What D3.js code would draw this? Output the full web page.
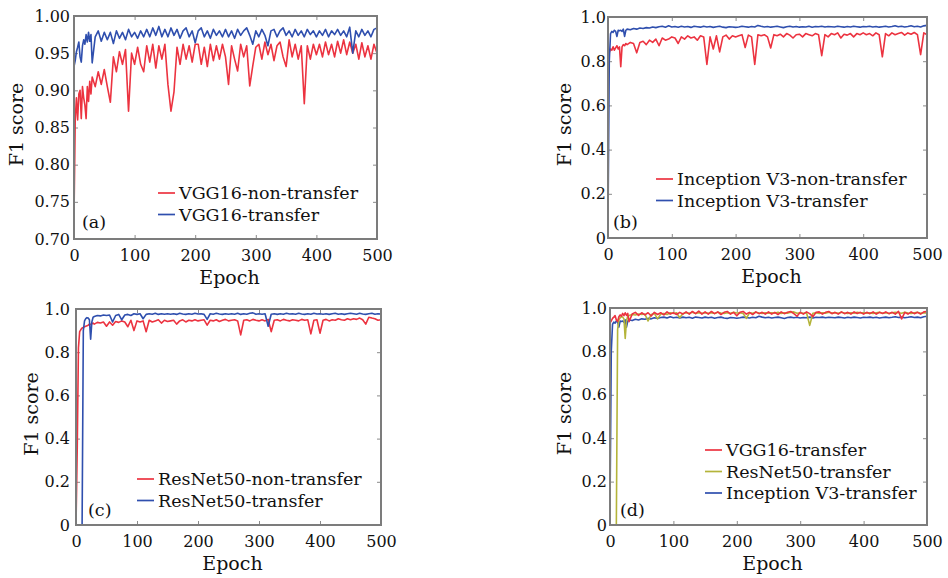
<!DOCTYPE html>
<html>
<head>
<meta charset="utf-8">
<script src="https://cdnjs.cloudflare.com/ajax/libs/d3/7.8.5/d3.min.js"></script>
<style>
    body { margin: 0; background: #fff; }
    svg { display: block; }
    text { font-family: "DejaVu Serif", serif; fill: #111; }
</style>
</head>
<body>
<div id="chart"></div>
<script>
// ----------------------- F1 score vs epoch, four panels

var epochs = [0, 2, 4, 6, 8, 10, 12, 14, 16, 18,
    20, 22, 24, 26, 28, 30, 35, 40, 45, 50,
    55, 60, 65, 70, 75, 80, 85, 90, 95, 100,
    105, 110, 115, 120, 125, 130, 135, 140, 145, 150,
    155, 160, 165, 170, 175, 180, 185, 190, 195, 200,
    205, 210, 215, 220, 225, 230, 235, 240, 245, 250,
    255, 260, 265, 270, 275, 280, 285, 290, 295, 300,
    305, 310, 315, 320, 325, 330, 335, 340, 345, 350,
    355, 360, 365, 370, 375, 380, 385, 390, 395, 400,
    405, 410, 415, 420, 425, 430, 435, 440, 445, 450,
    455, 460, 465, 470, 475, 480, 485, 490, 495, 500];

var vggNon = [0.73, 0.86, 0.89, 0.86, 0.895, 0.90, 0.862, 0.905, 0.89, 0.88,
    0.862, 0.905, 0.885, 0.912, 0.895, 0.918, 0.905, 0.925, 0.908, 0.928,
    0.905, 0.884, 0.945, 0.925, 0.952, 0.935, 0.955, 0.872, 0.95, 0.935,
    0.958, 0.935, 0.925, 0.96, 0.938, 0.962, 0.93, 0.96, 0.942, 0.962,
    0.908, 0.872, 0.898, 0.958, 0.935, 0.962, 0.942, 0.96, 0.938, 0.962,
    0.962, 0.935, 0.958, 0.932, 0.962, 0.94, 0.96, 0.942, 0.962, 0.945,
    0.908, 0.96, 0.942, 0.926, 0.962, 0.945, 0.96, 0.906, 0.933, 0.958,
    0.962, 0.942, 0.965, 0.948, 0.962, 0.94, 0.96, 0.965, 0.945, 0.932,
    0.968, 0.945, 0.962, 0.942, 0.96, 0.882, 0.96, 0.942, 0.962, 0.948,
    0.962, 0.945, 0.965, 0.948, 0.962, 0.945, 0.966, 0.95, 0.968, 0.948,
    0.965, 0.95, 0.962, 0.942, 0.964, 0.945, 0.96, 0.942, 0.962, 0.95];

var vggTr = [0.932, 0.94, 0.952, 0.958, 0.965, 0.945, 0.938, 0.96, 0.968, 0.962,
    0.975, 0.965, 0.978, 0.966, 0.975, 0.937, 0.972, 0.98, 0.966, 0.978,
    0.968, 0.978, 0.963, 0.98, 0.97, 0.978, 0.968, 0.982, 0.972, 0.978,
    0.97, 0.98, 0.972, 0.982, 0.972, 0.984, 0.974, 0.986, 0.972, 0.982,
    0.972, 0.984, 0.974, 0.982, 0.97, 0.98, 0.984, 0.972, 0.98, 0.964,
    0.98, 0.984, 0.972, 0.98, 0.97, 0.982, 0.974, 0.98, 0.972, 0.982,
    0.972, 0.98, 0.97, 0.982, 0.974, 0.98, 0.984, 0.974, 0.962, 0.98,
    0.972, 0.982, 0.974, 0.96, 0.98, 0.982, 0.972, 0.98, 0.984, 0.974,
    0.98, 0.972, 0.982, 0.974, 0.98, 0.972, 0.982, 0.975, 0.98, 0.972,
    0.98, 0.974, 0.982, 0.972, 0.98, 0.975, 0.982, 0.974, 0.98, 0.972,
    0.985, 0.95, 0.98, 0.972, 0.982, 0.974, 0.98, 0.972, 0.982, 0.984];

var incNon = [0.80, 0.84, 0.855, 0.85, 0.865, 0.85, 0.86, 0.87, 0.855, 0.865,
    0.775, 0.865, 0.875, 0.87, 0.88, 0.875, 0.885, 0.88, 0.838, 0.885,
    0.89, 0.875, 0.895, 0.885, 0.9, 0.87, 0.905, 0.895, 0.9, 0.91,
    0.905, 0.88, 0.91, 0.9, 0.915, 0.905, 0.91, 0.895, 0.915, 0.91,
    0.785, 0.91, 0.855, 0.915, 0.842, 0.91, 0.918, 0.9, 0.915, 0.91,
    0.915, 0.92, 0.862, 0.918, 0.91, 0.785, 0.92, 0.915, 0.92, 0.91,
    0.86, 0.92, 0.915, 0.922, 0.91, 0.925, 0.918, 0.905, 0.92, 0.922,
    0.91, 0.925, 0.92, 0.915, 0.925, 0.92, 0.825, 0.92, 0.91, 0.925,
    0.92, 0.928, 0.905, 0.922, 0.918, 0.925, 0.91, 0.925, 0.92, 0.928,
    0.92, 0.925, 0.915, 0.928, 0.92, 0.82, 0.925, 0.915, 0.928, 0.92,
    0.925, 0.93, 0.918, 0.928, 0.922, 0.93, 0.92, 0.83, 0.928, 0.92];

var incTr = [0.07, 0.80, 0.925, 0.935, 0.93, 0.94, 0.935, 0.912, 0.94, 0.938,
    0.94, 0.935, 0.945, 0.912, 0.94, 0.945, 0.942, 0.948, 0.945, 0.95,
    0.948, 0.952, 0.95, 0.955, 0.952, 0.956, 0.958, 0.954, 0.96, 0.955,
    0.957, 0.954, 0.958, 0.955, 0.957, 0.953, 0.958, 0.956, 0.954, 0.958,
    0.955, 0.957, 0.953, 0.956, 0.958, 0.954, 0.952, 0.956, 0.955, 0.953,
    0.955, 0.958, 0.956, 0.954, 0.957, 0.955, 0.962, 0.958, 0.955, 0.957,
    0.954, 0.956, 0.958, 0.955, 0.952, 0.956, 0.958, 0.955, 0.957, 0.954,
    0.956, 0.955, 0.958, 0.954, 0.957, 0.956, 0.958, 0.955, 0.957, 0.956,
    0.955, 0.958, 0.956, 0.954, 0.957, 0.955, 0.958, 0.956, 0.954, 0.957,
    0.956, 0.958, 0.955, 0.957, 0.954, 0.956, 0.958, 0.955, 0.957, 0.96,
    0.956, 0.958, 0.955, 0.957, 0.96, 0.956, 0.958, 0.955, 0.96, 0.962];

var resNon = [0.0, 0.35, 0.82, 0.895, 0.905, 0.912, 0.915, 0.918, 0.92, 0.922,
    0.925, 0.93, 0.928, 0.932, 0.935, 0.93, 0.938, 0.935, 0.94, 0.92,
    0.94, 0.925, 0.942, 0.938, 0.945, 0.94, 0.918, 0.948, 0.9, 0.945,
    0.94, 0.945, 0.895, 0.948, 0.94, 0.945, 0.95, 0.935, 0.948, 0.942,
    0.945, 0.948, 0.93, 0.945, 0.95, 0.94, 0.948, 0.945, 0.95, 0.945,
    0.948, 0.95, 0.925, 0.948, 0.945, 0.95, 0.942, 0.948, 0.952, 0.945,
    0.948, 0.95, 0.945, 0.88, 0.948, 0.95, 0.945, 0.952, 0.948, 0.945,
    0.95, 0.945, 0.952, 0.895, 0.948, 0.95, 0.945, 0.952, 0.948, 0.945,
    0.95, 0.948, 0.945, 0.952, 0.948, 0.95, 0.885, 0.948, 0.95, 0.888,
    0.948, 0.952, 0.945, 0.95, 0.948, 0.955, 0.95, 0.948, 0.955, 0.95,
    0.955, 0.952, 0.958, 0.95, 0.93, 0.962, 0.958, 0.955, 0.948, 0.95];

var resTr = [0, 0, 0, 0, 0, 0, 0.9, 0.945, 0.955, 0.96,
    0.958, 0.95, 0.86, 0.94, 0.962, 0.965, 0.97, 0.968, 0.972, 0.97,
    0.972, 0.94, 0.97, 0.975, 0.95, 0.972, 0.975, 0.97, 0.978, 0.975,
    0.978, 0.955, 0.975, 0.978, 0.976, 0.98, 0.975, 0.978, 0.976, 0.978,
    0.976, 0.978, 0.975, 0.98, 0.977, 0.975, 0.978, 0.976, 0.98, 0.977,
    0.978, 0.975, 0.952, 0.978, 0.976, 0.98, 0.977, 0.975, 0.978, 0.976,
    0.978, 0.976, 0.98, 0.975, 0.978, 0.976, 0.98, 0.982, 0.976, 0.978,
    0.976, 0.978, 0.92, 0.976, 0.978, 0.975, 0.978, 0.976, 0.98, 0.977,
    0.978, 0.976, 0.98, 0.977, 0.975, 0.978, 0.976, 0.98, 0.977, 0.978,
    0.976, 0.978, 0.975, 0.978, 0.98, 0.976, 0.978, 0.975, 0.978, 0.98,
    0.978, 0.976, 0.98, 0.977, 0.975, 0.978, 0.98, 0.976, 0.978, 0.977];

var xTicks = [0, 100, 200, 300, 400, 500];
var yTicksA = [0.70, 0.75, 0.80, 0.85, 0.90, 0.95, 1.00];
var yTicksB = [0, 0.2, 0.4, 0.6, 0.8, 1.0];

var RED = "#ec3340", BLUE = "#2f4fae", OLIVE = "#b4b43a";

var panels = [
    { tag: "(a)", left: 74, right: 377, top: 16, bottom: 239, yDomain: [0.70, 1.00], yTicks: yTicksA,
      fmt: function(d) { return d.toFixed(2); }, gap: 4, titleX: 17,
      series: [{ name: "VGG16-non-transfer", values: vggNon, color: RED },
               { name: "VGG16-transfer", values: vggTr, color: BLUE }],
      legend: [158, 193], tagPos: [82, 228] },
    { tag: "(b)", left: 608, right: 927, top: 17, bottom: 238, yDomain: [0, 1], yTicks: yTicksB,
      fmt: null, gap: 2, titleX: 565,
      series: [{ name: "Inception V3-non-transfer", values: incNon, color: RED },
               { name: "Inception V3-transfer", values: incTr, color: BLUE }],
      legend: [656, 179], tagPos: [613, 228] },
    { tag: "(c)", left: 76, right: 381, top: 309, bottom: 525, yDomain: [0, 1], yTicks: yTicksB,
      fmt: null, gap: 6, titleX: 32,
      series: [{ name: "ResNet50-non-transfer", values: resNon, color: RED },
               { name: "ResNet50-transfer", values: resTr, color: BLUE }],
      legend: [137, 479], tagPos: [88, 516] },
    { tag: "(d)", left: 610, right: 927, top: 308, bottom: 525, yDomain: [0, 1], yTicks: yTicksB,
      fmt: null, gap: 3, titleX: 565,
      series: [{ name: "VGG16-transfer", values: vggTr, color: RED },
               { name: "ResNet50-transfer", values: resTr, color: OLIVE },
               { name: "Inception V3-transfer", values: incTr, color: BLUE }],
      drawOrder: [2, 1, 0],
      legend: [705, 450], tagPos: [620, 516] }
];

var svg = d3.select("#chart").append("svg")
    .attr("width", 948)
    .attr("height", 578);

function shortFmt(d) {
    return d === 0 ? "0" : d.toFixed(1);
}

function drawPanel(p, idx) {
    var w = p.right - p.left, h = p.bottom - p.top;
    var x = d3.scaleLinear().domain([0, 500]).range([0, w]);
    var y = d3.scaleLinear().domain(p.yDomain).range([h, 0]);
    var fmt = p.fmt || shortFmt;

    var g = svg.append("g").attr("transform", "translate(" + p.left + "," + p.top + ")");

    g.append("clipPath").attr("id", "clip" + idx)
        .append("rect").attr("width", w).attr("height", h);

    // ticks point inward on all four sides
    var bottomAxis = g.append("g").attr("transform", "translate(0," + h + ")")
        .call(d3.axisBottom(x).tickValues(xTicks).tickSize(-4).tickPadding(11).tickFormat(d3.format("d")));
    var topAxis = g.append("g")
        .call(d3.axisTop(x).tickValues(xTicks).tickSize(-4).tickFormat(""));
    var leftAxis = g.append("g")
        .call(d3.axisLeft(y).tickValues(p.yTicks).tickSize(-4).tickPadding(p.gap).tickFormat(fmt));
    var rightAxis = g.append("g").attr("transform", "translate(" + w + ",0)")
        .call(d3.axisRight(y).tickValues(p.yTicks).tickSize(-4).tickFormat(""));

    [bottomAxis, topAxis, leftAxis, rightAxis].forEach(function(a) {
        a.select(".domain").remove();
        a.selectAll("line").attr("stroke", "#8a8a8a").attr("stroke-width", 1);
        a.selectAll("text").style("font-size", "16px").attr("fill", "#111");
    });

    var line = d3.line()
        .x(function(d) { return x(d[0]); })
        .y(function(d) { return y(d[1]); });

    var order = p.drawOrder || p.series.map(function(s, i) { return i; });
    order.forEach(function(i) {
        var s = p.series[i];
        g.append("path")
            .datum(d3.zip(epochs, s.values))
            .attr("clip-path", "url(#clip" + idx + ")")
            .attr("fill", "none")
            .attr("stroke", s.color)
            .attr("stroke-width", 1.6)
            .attr("stroke-linejoin", "round")
            .attr("d", line);
    });

    // frame
    g.append("rect")
        .attr("width", w).attr("height", h)
        .attr("fill", "none")
        .attr("stroke", "#7c7c7c")
        .attr("stroke-width", 2);

    // legend
    p.series.forEach(function(s, i) {
        var ly = p.legend[1] + i * 21.5;
        svg.append("line")
            .attr("x1", p.legend[0]).attr("x2", p.legend[0] + 17)
            .attr("y1", ly).attr("y2", ly)
            .attr("stroke", s.color).attr("stroke-width", 1.7);
        svg.append("text")
            .attr("x", p.legend[0] + 21).attr("y", ly + 6)
            .style("font-size", "17.5px")
            .text(s.name);
    });

    svg.append("text")
        .attr("x", p.tagPos[0]).attr("y", p.tagPos[1])
        .style("font-size", "17.5px")
        .text(p.tag);

    // axis titles
    svg.append("text")
        .attr("x", p.left + w / 2 + 4).attr("y", p.bottom + 45)
        .attr("text-anchor", "middle")
        .style("font-size", "19px")
        .text("Epoch");

    svg.append("text")
        .attr("transform", "translate(" + (p.titleX + 6) + "," + (p.top + h / 2 - 3) + ") rotate(-90)")
        .attr("text-anchor", "middle")
        .style("font-size", "19px")
        .text("F1 score");
}

panels.forEach(drawPanel);
</script>
</body>
</html>
